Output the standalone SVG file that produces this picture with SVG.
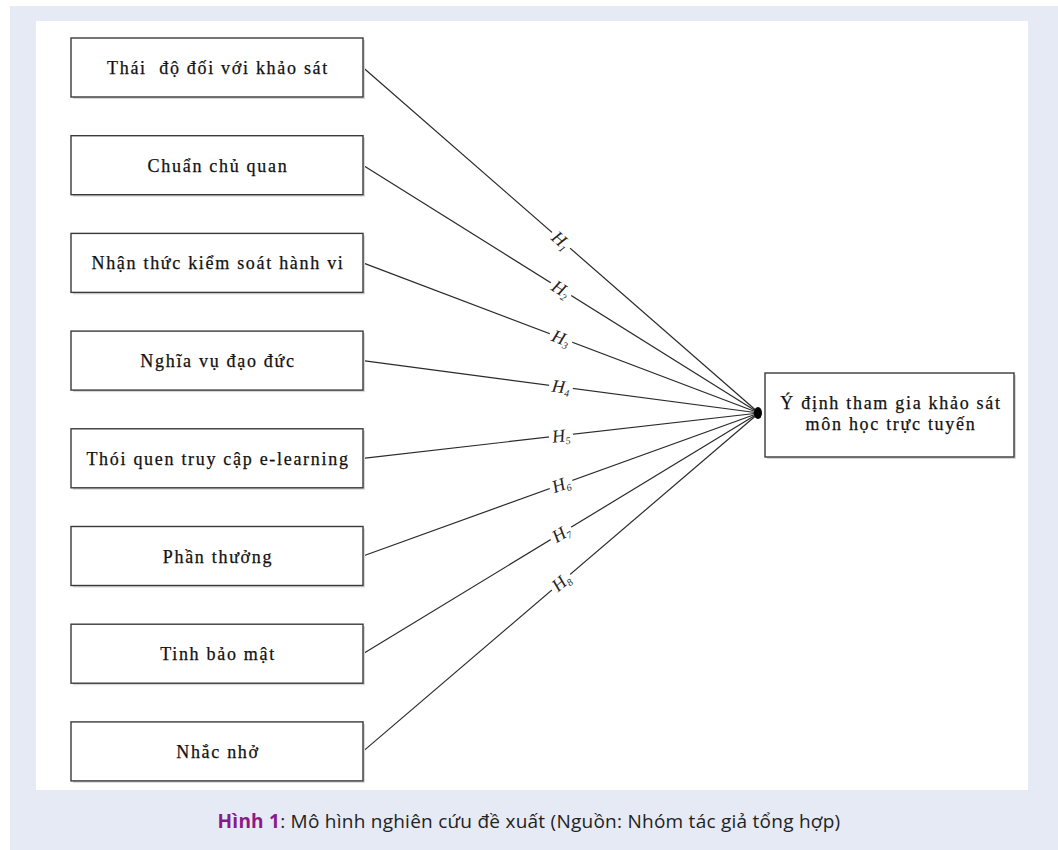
<svg xmlns="http://www.w3.org/2000/svg" width="1058" height="850" viewBox="0 0 1058 850">
<defs>
<style>
.box{fill:#fff;stroke:#3a3a3a;stroke-width:1.4}
.shadow{fill:#d8d8d8}
.bt{font-family:"Liberation Serif","DejaVu Serif",serif;font-size:18px;fill:#111;stroke:#111;stroke-width:0.25;text-anchor:middle;letter-spacing:1.7px}
.ln{stroke:#2a2a2a;stroke-width:1.2;fill:none}
.hl{font-family:"Liberation Serif","DejaVu Serif",serif;font-style:italic;font-size:18px;fill:#222;text-anchor:middle}
.sub{font-size:10px}
.lbg{fill:#fff}
.cap{font-family:"Open Sans","Noto Sans","Liberation Sans",sans-serif;font-size:19px;letter-spacing:0.25px;fill:#222;text-anchor:middle}
.capb{font-weight:bold;fill:#8a1a8c}
</style>
</defs>
<rect width="1058" height="850" fill="#fff"/>
<rect x="10" y="6" width="1048" height="844" fill="#e6eaf4"/>
<rect x="36" y="21" width="992" height="769" fill="#fff"/>

<g id="connectors">
<line class="ln" x1="363" y1="67.5" x2="759" y2="413"/>
<line class="ln" x1="363" y1="165.2" x2="759" y2="413"/>
<line class="ln" x1="363" y1="262.9" x2="759" y2="413"/>
<line class="ln" x1="363" y1="360.6" x2="759" y2="413"/>
<line class="ln" x1="363" y1="458.3" x2="759" y2="413"/>
<line class="ln" x1="363" y1="556" x2="759" y2="413"/>
<line class="ln" x1="363" y1="653.7" x2="759" y2="413"/>
<line class="ln" x1="363" y1="751.4" x2="759" y2="413"/>
<ellipse cx="758" cy="413" rx="4" ry="6" fill="#000"/>
<g transform="translate(561,240.3) rotate(41.1)"><rect class="lbg" x="-12" y="-9" width="24" height="16"/><text class="hl" y="6">H<tspan class="sub" dy="3">1</tspan></text></g>
<g transform="translate(561,289.1) rotate(32)"><rect class="lbg" x="-12" y="-9" width="24" height="16"/><text class="hl" y="6">H<tspan class="sub" dy="3">2</tspan></text></g>
<g transform="translate(561,338) rotate(20.8)"><rect class="lbg" x="-12" y="-9" width="24" height="16"/><text class="hl" y="6">H<tspan class="sub" dy="3">3</tspan></text></g>
<g transform="translate(561,386.8) rotate(7.5)"><rect class="lbg" x="-12" y="-9" width="24" height="16"/><text class="hl" y="6">H<tspan class="sub" dy="3">4</tspan></text></g>
<g transform="translate(561,435.7) rotate(-6.5)"><rect class="lbg" x="-12" y="-9" width="24" height="16"/><text class="hl" y="6">H<tspan class="sub" dy="3">5</tspan></text></g>
<g transform="translate(561,484.5) rotate(-19.9)"><rect class="lbg" x="-12" y="-9" width="24" height="16"/><text class="hl" y="6">H<tspan class="sub" dy="3">6</tspan></text></g>
<g transform="translate(561,533.4) rotate(-31.3)"><rect class="lbg" x="-12" y="-9" width="24" height="16"/><text class="hl" y="6">H<tspan class="sub" dy="3">7</tspan></text></g>
<g transform="translate(561,582.2) rotate(-40.5)"><rect class="lbg" x="-12" y="-9" width="24" height="16"/><text class="hl" y="6">H<tspan class="sub" dy="3">8</tspan></text></g>
</g>

<g id="n1"><rect class="shadow" x="73" y="40" width="292" height="59"/><rect class="box" x="71" y="38" width="292" height="59"/><text class="bt" x="218" y="74" xml:space="preserve">Thái  độ đối với khảo sát</text></g>
<g id="n2"><rect class="shadow" x="73" y="137.7" width="292" height="59"/><rect class="box" x="71" y="135.7" width="292" height="59"/><text class="bt" x="218" y="171.7">Chuẩn chủ quan</text></g>
<g id="n3"><rect class="shadow" x="73" y="235.4" width="292" height="59"/><rect class="box" x="71" y="233.4" width="292" height="59"/><text class="bt" x="218" y="269.4">Nhận thức kiểm soát hành vi</text></g>
<g id="n4"><rect class="shadow" x="73" y="333.1" width="292" height="59"/><rect class="box" x="71" y="331.1" width="292" height="59"/><text class="bt" x="218" y="367.1">Nghĩa vụ đạo đức</text></g>
<g id="n5"><rect class="shadow" x="73" y="430.8" width="292" height="59"/><rect class="box" x="71" y="428.8" width="292" height="59"/><text class="bt" x="218" y="464.8">Thói quen truy cập e-learning</text></g>
<g id="n6"><rect class="shadow" x="73" y="528.5" width="292" height="59"/><rect class="box" x="71" y="526.5" width="292" height="59"/><text class="bt" x="218" y="562.5">Phần thưởng</text></g>
<g id="n7"><rect class="shadow" x="73" y="626.2" width="292" height="59"/><rect class="box" x="71" y="624.2" width="292" height="59"/><text class="bt" x="218" y="660.2">Tinh bảo mật</text></g>
<g id="n8"><rect class="shadow" x="73" y="723.9" width="292" height="59"/><rect class="box" x="71" y="721.9" width="292" height="59"/><text class="bt" x="218" y="757.9">Nhắc nhở</text></g>
<g id="target"><rect class="shadow" x="767" y="375" width="249" height="84"/><rect class="box" x="765" y="373" width="249" height="84"/><text class="bt" x="891" y="409">Ý định tham gia khảo sát</text><text class="bt" x="891" y="430">môn học trực tuyến</text></g>

<text class="cap" x="529" y="828"><tspan class="capb">Hình 1</tspan>: Mô hình nghiên cứu đề xuất (Nguồn: Nhóm tác giả tổng hợp)</text>
</svg>
